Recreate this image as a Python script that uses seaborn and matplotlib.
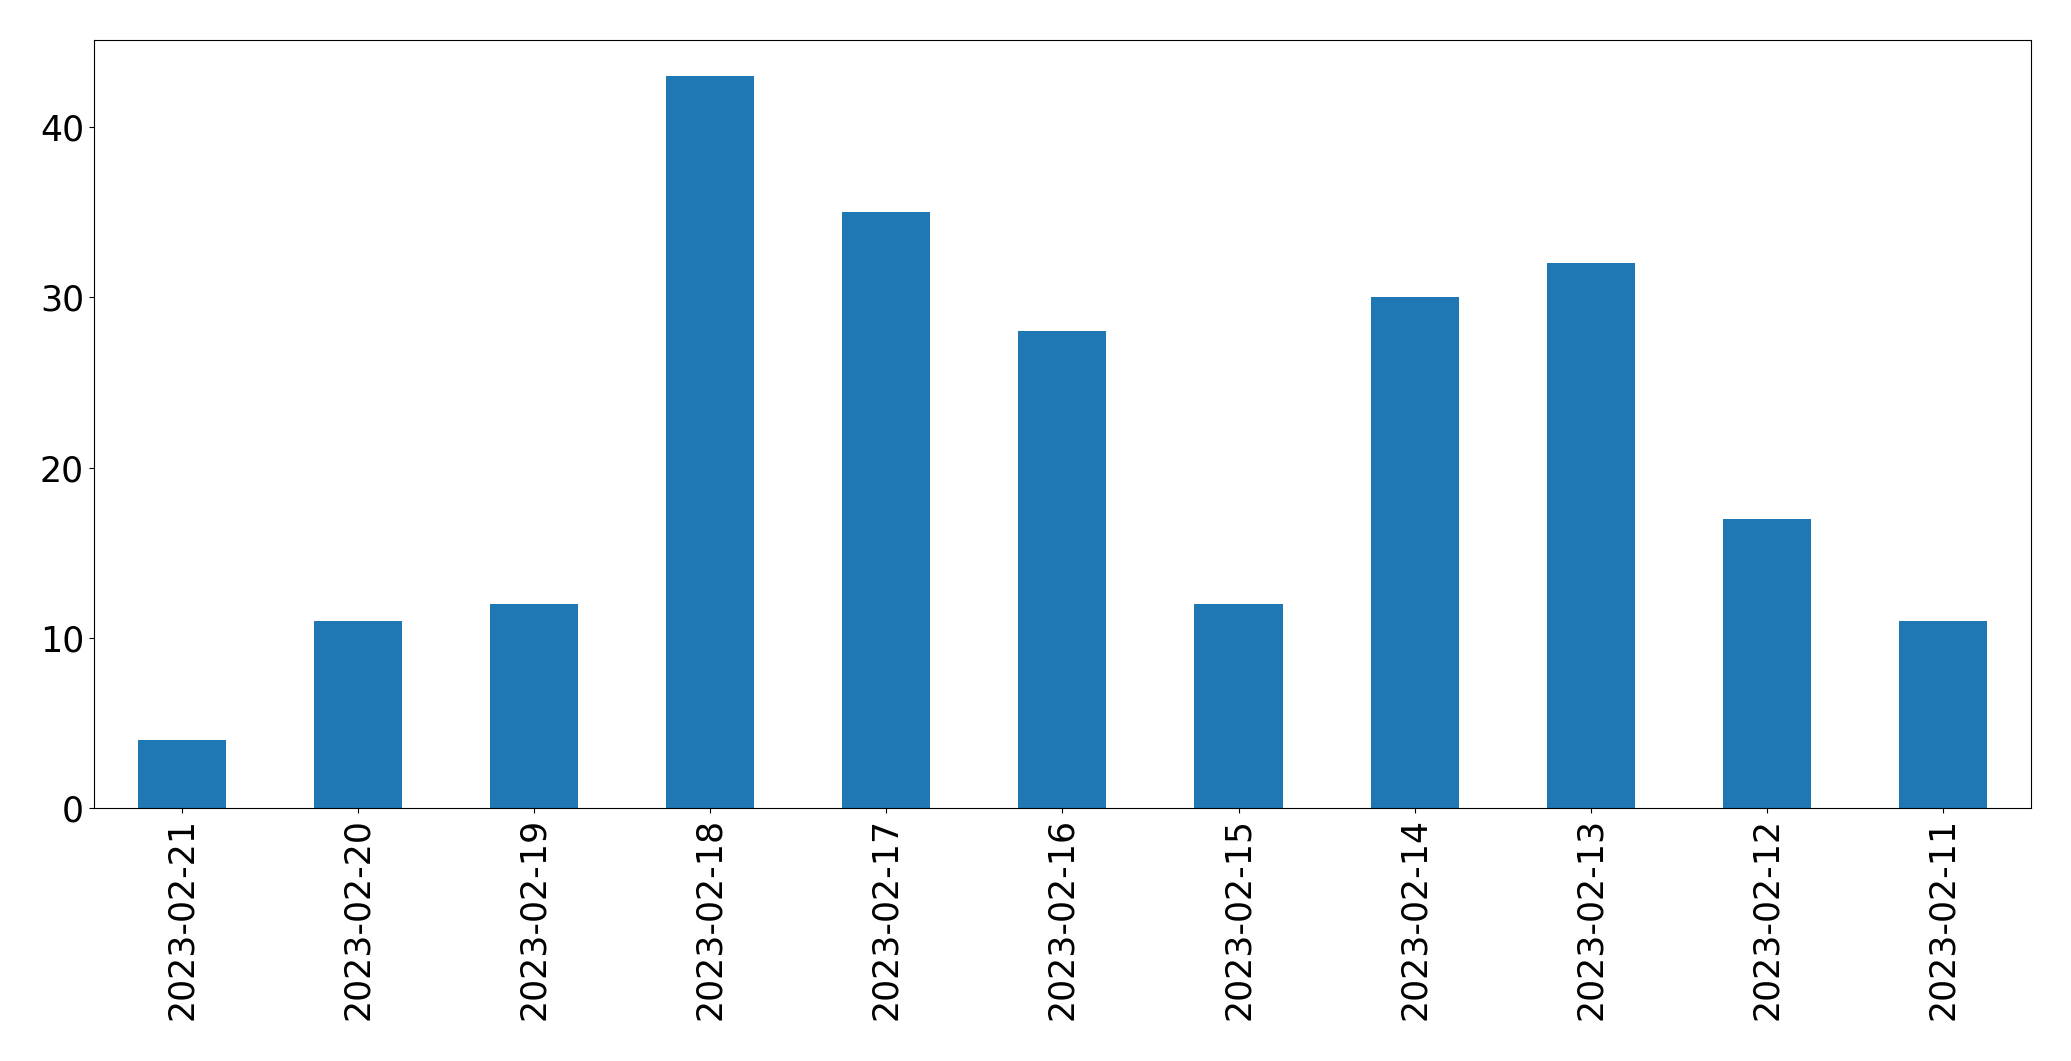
import seaborn as sns
import matplotlib.pyplot as plt
import pandas as pd

dates = ["2023-02-21", "2023-02-20", "2023-02-19", "2023-02-18", "2023-02-17", "2023-02-16",
         "2023-02-15", "2023-02-14", "2023-02-13", "2023-02-12", "2023-02-11"]
counts = [4, 11, 12, 43, 35, 28, 12, 30, 32, 17, 11]

df = pd.DataFrame({"date": dates, "count": counts})

fig = plt.figure(figsize=(20.71, 10.61), dpi=100)
ax = fig.add_axes([93.8 / 2071, 1 - 808 / 1061, (2031 - 93.8) / 2071, (808 - 39.6) / 1061])

sns.barplot(data=df, x="date", y="count", color="#1f77b4", saturation=1, width=0.5,
            linewidth=0, ax=ax)

ax.set_xlabel("")
ax.set_ylabel("")
ax.set_xlim(-0.5, len(dates) - 0.5)
ax.set_yticks([0, 10, 20, 30, 40])
ax.tick_params(axis="both", labelsize=25)
plt.setp(ax.get_xticklabels(), rotation=90)

fig.savefig("out.png", dpi=100)
